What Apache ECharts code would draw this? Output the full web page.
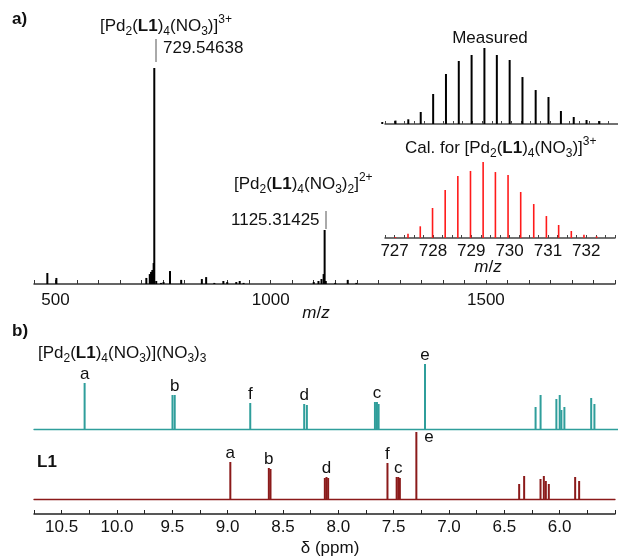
<!DOCTYPE html>
<html>
<head>
<meta charset="utf-8">
<script src="https://cdn.jsdelivr.net/npm/echarts@6/dist/echarts.min.js"></script>
<style>
  html, body { margin: 0; padding: 0; background: #fff; }
  #chart { width: 618px; height: 557px; }
</style>
</head>
<body>
<div id="chart"></div>
<script>
// a) ESI-MS, full range (relative intensity, %)
const msMz = [481, 502, 711, 719, 722, 725, 728, 729.5, 734, 745, 751, 766, 792, 840, 850, 869,
  890, 899, 920, 928, 937, 1100, 1111, 1118, 1123, 1125.3, 1128, 1150, 1179, 1199];
const msInt = [5.1, 2.8, 2.8, 4.6, 5.6, 6.5, 9.7, 100, 1.4, 0.5, 0.9, 6.0, 1.9, 2.3, 3.2, 0.5,
  1.4, 0.9, 0.9, 1.4, 0.5, 0.9, 1.4, 2.3, 4.6, 25, 1.4, 0.5, 1.9, 0.5];
const msTicks = [500, 1000, 1500];

// isotope pattern of the 3+ ion, measured and calculated
const isoMeasMz = [726.68, 727.02, 727.35, 727.67, 727.99, 728.32, 728.65, 728.98, 729.31,
  729.63, 729.96, 730.29, 730.63, 730.96, 731.28, 731.61, 731.94, 732.27];
const isoMeasInt = [2.6, 4.5, 6.2, 15.8, 39.5, 65.8, 82.9, 90.8, 100, 90.8, 84.2, 61.8, 44.7,
  35.5, 17.1, 9.2, 5.3, 3.9];
const isoCalcMz = [727.02, 727.35, 727.67, 727.99, 728.32, 728.65, 728.98, 729.31, 729.63,
  729.96, 730.29, 730.63, 730.96, 731.28, 731.61, 731.94, 732.27];
const isoCalcInt = [1.3, 5.7, 15.4, 39.5, 63.2, 81.6, 88.2, 100, 86.8, 82.9, 60.5, 44.7, 28.9,
  17.1, 9.2, 4.3, 2.2];
const isoTicks = [727, 728, 729, 730, 731, 732];

// b) 1H NMR, cage (top) and free ligand L1 (bottom)
const cageShift = [10.295, 9.505, 9.485, 8.806, 8.321, 8.297, 7.685, 7.667, 7.652, 7.235,
  6.241, 6.196, 6.054, 6.024, 6.009, 5.982, 5.741, 5.712];
const cageInt = [46, 34, 34, 26, 25, 24, 27, 27, 25, 65, 22, 34, 30, 34, 19, 22, 31, 25];
const cageTag = ['a', '', 'b', 'f', 'd', '', '', 'c', '', 'e', '', '', '', '', '', '', '', ''];

const ligShift = [8.976, 8.628, 8.613, 8.122, 8.107, 8.092, 7.556, 7.473, 7.458, 7.444, 7.295,
  6.366, 6.321, 6.173, 6.143, 6.125, 6.098, 5.860, 5.824];
const ligInt = [37, 31, 30, 21, 22, 21, 36, 22, 22, 21, 67, 15, 23, 20, 23, 18, 15, 22, 18];
const ligTag = ['a', 'b', '', '', 'd', '', 'f', '', 'c', '', 'e', '', '', '', '', '', '', '', ''];
const ppmTicks = [10.5, 10.0, 9.5, 9.0, 8.5, 8.0, 7.5, 7.0, 6.5, 6.0];

const FONT = "'Liberation Sans', Arial, sans-serif";
const INK = '#111';
const TEAL = '#2f9e9b';
const WINE = '#8b1a1a';

const chart = echarts.init(document.getElementById('chart'));

const rich = {
  n: { fontSize: 17, lineHeight: 24, fontFamily: FONT, color: INK },
  b: { fontSize: 17, lineHeight: 24, fontWeight: 'bold', fontFamily: FONT, color: INK },
  i: { fontSize: 17, lineHeight: 24, fontStyle: 'italic', fontFamily: FONT, color: INK },
  sub: { fontSize: 12, lineHeight: 12, verticalAlign: 'bottom', fontFamily: FONT, color: INK },
  sup: { fontSize: 12, lineHeight: 12, verticalAlign: 'top', fontFamily: FONT, color: INK }
};

function txt(x, y, text, align) {
  return {
    type: 'text', x: x, y: y, silent: true,
    style: { text: text, rich: rich, align: align || 'left', verticalAlign: 'middle',
      fill: INK, font: '17px ' + FONT }
  };
}
function vline(x, y1, y2) {
  return { type: 'line', silent: true, shape: { x1: x, y1: y1, x2: x, y2: y2 },
    style: { stroke: '#555', lineWidth: 1 } };
}

function sticks(xs, ys, tags) {
  return xs.map((x, i) => {
    const item = { value: [x, ys[i]] };
    if (tags && tags[i]) item.label = { show: true, formatter: tags[i] };
    return item;
  });
}

function isTick(list, v) {
  return list.some(t => Math.abs(t - v) < 1e-6);
}

const axisLine = c => ({ show: true, onZero: false, lineStyle: { color: c, width: 1.5 } });
const labelFont = { fontSize: 17, fontFamily: FONT, color: INK };

const formula3 = '{n|[Pd}{sub|2}{n|(}{b|L1}{n|)}{sub|4}{n|(NO}{sub|3}{n|)]}{sup|3+}';
const formula2 = '{n|[Pd}{sub|2}{n|(}{b|L1}{n|)}{sub|4}{n|(NO}{sub|3}{n|)}{sub|2}{n|]}{sup|2+}';
const cageName = '{n|[Pd}{sub|2}{n|(}{b|L1}{n|)}{sub|4}{n|(NO}{sub|3}{n|)](NO}{sub|3}{n|)}{sub|3}';

const peakLabel = { position: 'top', distance: 0, fontSize: 17, fontFamily: FONT, color: INK };

const option = {
  animation: false,
  backgroundColor: '#fff',
  grid: [
    { left: 34, right: 0, top: 68, height: 216 },
    { left: 385, right: -7, top: 48, height: 76 },
    { left: 385, right: -7, top: 162, height: 76 },
    { left: 34, right: -4, top: 359, height: 70 },
    { left: 34, right: -4, top: 429, height: 70 }
  ],
  xAxis: [
    { gridIndex: 0, type: 'value', min: 450, max: 1800, interval: 50,
      axisLine: axisLine('#333'),
      axisTick: { inside: true, length: 4, lineStyle: { color: '#333' } },
      axisLabel: Object.assign({ margin: 8, formatter: v => isTick(msTicks, v) ? String(v) : '' }, labelFont),
      splitLine: { show: false } },
    { gridIndex: 1, type: 'value', min: 726.75, max: 732.75, interval: 0.25,
      axisLine: axisLine('#444'),
      axisTick: { inside: true, length: 3, lineStyle: { color: '#444' } },
      axisLabel: { show: false }, splitLine: { show: false } },
    { gridIndex: 2, type: 'value', min: 726.75, max: 732.75, interval: 0.25,
      axisLine: axisLine('#444'),
      axisTick: { inside: true, length: 3, lineStyle: { color: '#444' } },
      axisLabel: Object.assign({ margin: 5, formatter: v => isTick(isoTicks, v) ? String(v) : '' }, labelFont),
      splitLine: { show: false } },
    { gridIndex: 3, type: 'value', min: 5.5, max: 10.75, inverse: true,
      axisLine: { show: true, onZero: false, lineStyle: { color: TEAL, width: 1.3 } },
      axisTick: { show: false }, axisLabel: { show: false }, splitLine: { show: false } },
    { gridIndex: 4, type: 'value', min: 5.5, max: 10.75, inverse: true,
      axisLine: { show: true, onZero: false, lineStyle: { color: WINE, width: 1.3 } },
      axisTick: { show: false }, axisLabel: { show: false }, splitLine: { show: false } },
    { gridIndex: 4, type: 'value', min: 5.5, max: 10.75, interval: 0.25, inverse: true,
      position: 'bottom', offset: 15,
      axisLine: axisLine('#222'),
      axisTick: { inside: true, length: 4, lineStyle: { color: '#222' } },
      axisLabel: Object.assign({ margin: 5, formatter: v => isTick(ppmTicks, v) ? v.toFixed(1) : '' }, labelFont),
      splitLine: { show: false } }
  ],
  yAxis: [
    { gridIndex: 0, type: 'value', min: 0, max: 100, show: false },
    { gridIndex: 1, type: 'value', min: 0, max: 100, show: false },
    { gridIndex: 2, type: 'value', min: 0, max: 100, show: false },
    { gridIndex: 3, type: 'value', min: 0, max: 70, show: false },
    { gridIndex: 4, type: 'value', min: 0, max: 70, show: false }
  ],
  series: [
    { name: 'MS', type: 'bar', xAxisIndex: 0, yAxisIndex: 0, barWidth: 2,
      itemStyle: { color: '#000' }, data: sticks(msMz, msInt) },
    { name: 'Measured', type: 'bar', xAxisIndex: 1, yAxisIndex: 1, barWidth: 2,
      itemStyle: { color: '#000' }, data: sticks(isoMeasMz, isoMeasInt) },
    { name: 'Calculated', type: 'bar', xAxisIndex: 2, yAxisIndex: 2, barWidth: 1.6,
      itemStyle: { color: '#ff1a1a' }, data: sticks(isoCalcMz, isoCalcInt) },
    { name: 'Cage', type: 'bar', xAxisIndex: 3, yAxisIndex: 3, barWidth: 2,
      itemStyle: { color: TEAL }, label: peakLabel, data: sticks(cageShift, cageInt, cageTag) },
    { name: 'L1', type: 'bar', xAxisIndex: 4, yAxisIndex: 4, barWidth: 2,
      itemStyle: { color: WINE }, label: peakLabel,
      data: sticks(ligShift, ligInt, ligTag).map(d => {
        if (d.label && d.label.formatter === 'e') {
          d.label = { show: true, formatter: 'e', position: [9, -3], align: 'left', verticalAlign: 'top' };
        }
        return d;
      }) }
  ],
  graphic: [
    txt(12, 19, '{b|a)}'),
    txt(100, 26, formula3),
    txt(163, 48, '{n|729.54638}'),
    vline(156, 39, 62),
    txt(234, 184, formula2),
    txt(231, 220, '{n|1125.31425}'),
    vline(326, 211, 229),
    txt(316, 313, '{i|m}{n|/}{i|z}', 'center'),
    txt(490, 38, '{n|Measured}', 'center'),
    txt(405, 148, '{n|Cal. for }' + formula3),
    txt(488, 267, '{i|m}{n|/}{i|z}', 'center'),
    txt(12, 331, '{b|b)}'),
    txt(38, 353, cageName),
    txt(37, 462, '{b|L1}'),
    txt(330, 548, '{n|δ (ppm)}', 'center')
  ]
};

chart.setOption(option);
</script>
</body>
</html>
